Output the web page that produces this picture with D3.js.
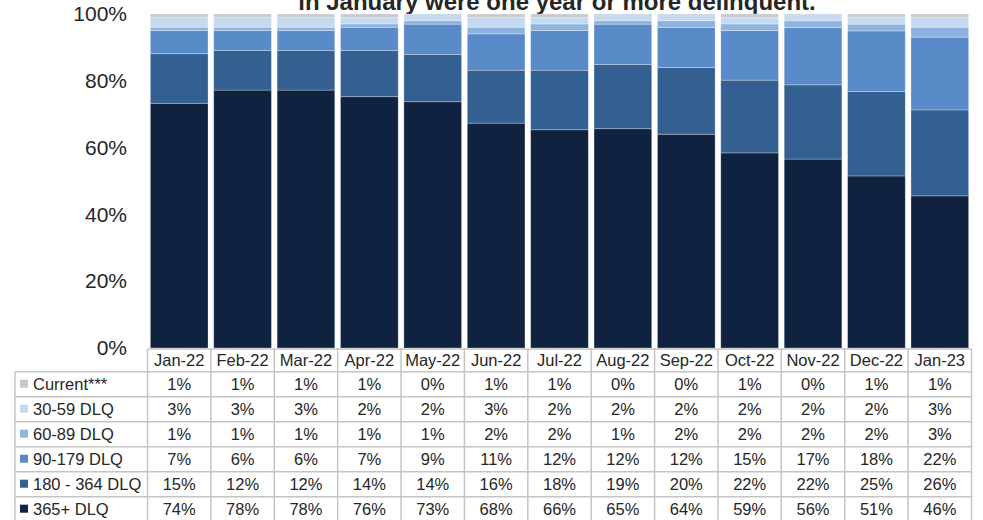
<!DOCTYPE html>
<html>
<head>
<meta charset="utf-8">
<script src="https://cdn.jsdelivr.net/npm/d3@7"></script>
<style>
  html, body { margin: 0; padding: 0; background: #fff; }
  svg { display: block; font-family: "Liberation Sans", Arial, sans-serif; }
</style>
</head>
<body>
<svg id="chart" width="983" height="520"></svg>
<script>
// ---- Data ----
const months = ["Jan-22","Feb-22","Mar-22","Apr-22","May-22","Jun-22","Jul-22","Aug-22","Sep-22","Oct-22","Nov-22","Dec-22","Jan-23"];
const seriesNames = ["Current***","30-59 DLQ","60-89 DLQ","90-179 DLQ","180 - 364 DLQ","365+ DLQ"];
const current = [1,1,1,1,0,1,1,0,0,1,0,1,1];
const dlq30   = [3,3,3,2,2,3,2,2,2,2,2,2,3];
const dlq60   = [1,1,1,1,1,2,2,1,2,2,2,2,3];
const dlq90   = [7,6,6,7,9,11,12,12,12,15,17,18,22];
const dlq180  = [15,12,12,14,14,16,18,19,20,22,22,25,26];
const dlq365  = [74,78,78,76,73,68,66,65,64,59,56,51,46];
const yTicks  = [0,0.2,0.4,0.6,0.8,1.0];
const titleText = "in January were one year or more delinquent.";

const seriesValues = [current, dlq30, dlq60, dlq90, dlq180, dlq365];
const colors = ["#c9c9c9","#c5d9f0","#8db3de","#588bc7","#335f91","#0f2340"];

// ---- Build table ----
const rows = months.map((m, i) => {
  const r = { month: m };
  seriesNames.forEach((s, k) => r[s] = seriesValues[k][i]);
  return r;
});

const svg = d3.select("#chart");

const colLeft = 147.5, colRight = 971.5;
const xCol = d3.scaleBand().domain(months).range([colLeft, colRight]).padding(0);
const xBar = d3.scaleBand().domain(months).range([colLeft, colRight]).paddingInner(0.09).paddingOuter(0.045);
const y = d3.scaleLinear().domain([0, 1]).range([348, 14]);

// Stack: bottom to top = 365+, 180, 90, 60, 30, current
const stackKeys = seriesNames.slice().reverse();
const stack = d3.stack().keys(stackKeys).offset(d3.stackOffsetExpand);
const stacked = stack(rows);
const colorOf = d3.scaleOrdinal().domain(seriesNames).range(colors);

// Title (cut at the top, as in the reference)
svg.append("text")
  .attr("x", 557).attr("y", 10)
  .attr("text-anchor", "middle")
  .attr("font-size", 24).attr("font-weight", "bold")
  .attr("fill", "#262626")
  .text(titleText);

// Bars
svg.append("g").selectAll("g")
  .data(stacked)
  .join("g")
  .attr("fill", d => colorOf(d.key))
  .selectAll("rect")
  .data(d => d)
  .join("rect")
  .attr("x", d => xBar(d.data.month))
  .attr("width", xBar.bandwidth())
  .attr("y", d => y(d[1]))
  .attr("height", d => Math.max(0, y(d[0]) - y(d[1])))
  .attr("stroke", "rgba(255,255,255,0.35)")
  .attr("stroke-width", 0.8);

// Y axis
const yAxis = d3.axisLeft(y).tickValues(yTicks).tickFormat(d3.format(".0%")).tickSize(0).tickPadding(0);
const ga = svg.append("g").attr("transform", "translate(127,0)").call(yAxis);
ga.select(".domain").remove();
ga.selectAll("text")
  .attr("font-size", 21)
  .attr("font-family", "Liberation Sans, Arial, sans-serif")
  .attr("fill", "#262626");

// ---- Data table ----
const headerTop = 349, headerH = 22.7, rowH = 25;
const bodyTop = headerTop + headerH;
const labelLeft = 15;
const grid = svg.append("g").attr("stroke", "#c4c4c4").attr("stroke-width", 1.5).attr("fill", "none");

grid.append("line").attr("x1", colLeft).attr("x2", colRight).attr("y1", headerTop).attr("y2", headerTop);
d3.range(seriesNames.length + 1).forEach(i => {
  const yy = bodyTop + i * rowH;
  grid.append("line").attr("x1", labelLeft).attr("x2", colRight).attr("y1", yy).attr("y2", yy);
});
const bottom = bodyTop + seriesNames.length * rowH;
months.forEach(m => {
  grid.append("line").attr("x1", xCol(m)).attr("x2", xCol(m)).attr("y1", headerTop).attr("y2", bottom);
});
grid.append("line").attr("x1", colRight).attr("x2", colRight).attr("y1", headerTop).attr("y2", bottom);
grid.append("line").attr("x1", labelLeft).attr("x2", labelLeft).attr("y1", bodyTop).attr("y2", bottom);

const txt = svg.append("g").attr("font-size", 16.5).attr("fill", "#262626");

txt.selectAll("text.hdr")
  .data(months)
  .join("text")
  .attr("class", "hdr")
  .attr("x", d => xCol(d) + xCol.bandwidth() / 2)
  .attr("y", headerTop + headerH / 2)
  .attr("dy", "0.35em")
  .attr("text-anchor", "middle")
  .text(d => d);

seriesNames.forEach((s, k) => {
  const cy = bodyTop + k * rowH + rowH / 2;
  svg.append("rect")
    .attr("x", 20).attr("y", cy - 4.5)
    .attr("width", 8).attr("height", 8)
    .attr("fill", colorOf(s));
  txt.append("text")
    .attr("x", 33).attr("y", cy).attr("dy", "0.35em")
    .text(s);
  txt.selectAll(null)
    .data(rows)
    .join("text")
    .attr("x", d => xCol(d.month) + xCol.bandwidth() / 2)
    .attr("y", cy).attr("dy", "0.35em")
    .attr("text-anchor", "middle")
    .text(d => d[s] + "%");
});
</script>
</body>
</html>
